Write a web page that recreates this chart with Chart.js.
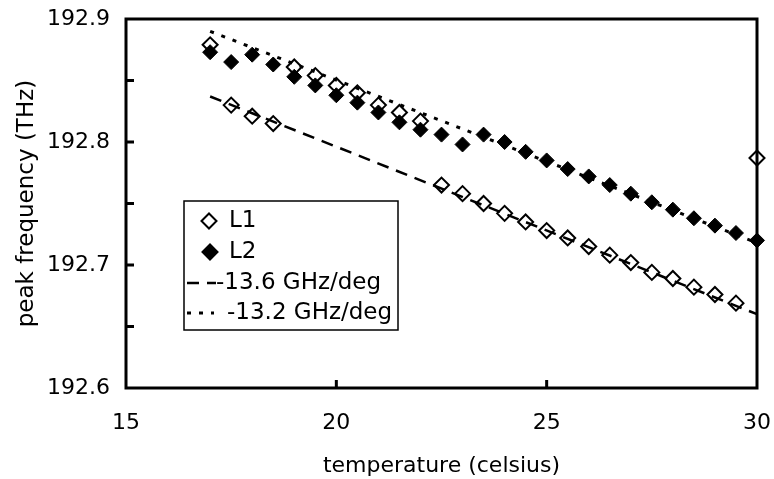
<!DOCTYPE html>
<html lang="en">
<head>
    <meta charset="UTF-8">
    <title>Peak frequency vs temperature</title>
    <style>
        body {
            margin: 0;
            background: white;
        }
        #chart {
            display: block;
        }
    </style>
</head>
<body>
    <canvas id="chart" width="774" height="479"></canvas>

    <script src="https://cdn.jsdelivr.net/npm/chart.js@4.4.0/dist/chart.umd.js"></script>
    <script>
        // Measured points (temperature in celsius, peak frequency in THz)
        const temps = [17, 17.5, 18, 18.5, 19, 19.5, 20, 20.5, 21, 21.5, 22, 22.5, 23, 23.5,
                       24, 24.5, 25, 25.5, 26, 26.5, 27, 27.5, 28, 28.5, 29, 29.5, 30];
        const l1Freq = [192.879, 192.830, 192.821, 192.815, 192.861, 192.854, 192.846, 192.840,
                        192.830, 192.824, 192.817, 192.765, 192.758, 192.750, 192.742, 192.735,
                        192.728, 192.722, 192.715, 192.708, 192.702, 192.694, 192.689, 192.682,
                        192.676, 192.669, 192.787];
        const l2Freq = [192.873, 192.865, 192.871, 192.863, 192.853, 192.846, 192.838, 192.832,
                        192.824, 192.816, 192.810, 192.806, 192.798, 192.806, 192.800, 192.792,
                        192.785, 192.778, 192.772, 192.765, 192.758, 192.751, 192.745, 192.738,
                        192.732, 192.726, 192.720];

        // Linear fits
        const fitTemps = [17, 30];
        const fitL1 = [192.837, 192.660];   // -13.6 GHz/deg
        const fitL2 = [192.890, 192.718];   // -13.2 GHz/deg

        // Axis ticks
        const xTicks = [15, 20, 25, 30];
        const yTicks = [192.6, 192.7, 192.8, 192.9];
        const xTickMarks = [20, 25];
        const yTickMarks = [192.65, 192.7, 192.75, 192.8, 192.85];

        const toPoints = (xs, ys) => xs.map((x, i) => ({ x: x, y: ys[i] }));

        Chart.defaults.color = '#000';
        Chart.defaults.font.family = '"DejaVu Sans", sans-serif';

        function diamond(ctx, x, y, r, fill) {
            ctx.beginPath();
            ctx.moveTo(x - r, y);
            ctx.lineTo(x, y - r);
            ctx.lineTo(x + r, y);
            ctx.lineTo(x, y + r);
            ctx.closePath();
            ctx.fillStyle = fill;
            ctx.fill();
            ctx.lineWidth = 2;
            ctx.strokeStyle = '#000';
            ctx.stroke();
        }

        // frame, inward tick marks and the boxed legend
        const framePlugin = {
            id: 'frame',
            afterDraw(chart) {
                const ctx = chart.ctx;
                const a = chart.chartArea;
                const xs = chart.scales.x, ys = chart.scales.y;
                ctx.save();
                ctx.strokeStyle = '#000';
                ctx.lineWidth = 3;
                ctx.strokeRect(a.left, a.top, a.right - a.left, a.bottom - a.top);

                ctx.beginPath();
                yTickMarks.forEach(v => {
                    const py = ys.getPixelForValue(v);
                    ctx.moveTo(a.left, py);
                    ctx.lineTo(a.left + 8, py);
                });
                xTickMarks.forEach(v => {
                    const px = xs.getPixelForValue(v);
                    ctx.moveTo(px, a.bottom);
                    ctx.lineTo(px, a.bottom - 8);
                });
                ctx.stroke();

                // legend box
                ctx.lineWidth = 1.5;
                ctx.strokeRect(184, 201, 214, 129);
                ctx.font = '23px "DejaVu Sans", sans-serif';
                ctx.textBaseline = 'middle';
                ctx.fillStyle = '#000';

                const sets = chart.data.datasets;
                const rows = [221, 252, 283, 313];

                diamond(ctx, 209, rows[0], 7.5, '#fff');
                ctx.fillStyle = '#000';
                ctx.fillText(sets[0].label, 229, rows[0]);

                diamond(ctx, 210, rows[1], 7.5, '#000');
                ctx.fillStyle = '#000';
                ctx.fillText(sets[1].label, 229, rows[1]);

                ctx.lineWidth = 2.5;
                ctx.setLineDash(sets[2].borderDash);
                ctx.beginPath();
                ctx.moveTo(187, rows[2]);
                ctx.lineTo(216, rows[2]);
                ctx.stroke();
                ctx.setLineDash([]);
                ctx.fillText(sets[2].label, 216, rows[2]);

                ctx.lineWidth = 3;
                ctx.setLineDash(sets[3].borderDash);
                ctx.beginPath();
                ctx.moveTo(187, rows[3]);
                ctx.lineTo(214, rows[3]);
                ctx.stroke();
                ctx.setLineDash([]);
                ctx.fillText(sets[3].label, 227, rows[3]);
                ctx.restore();
            }
        };

        new Chart(document.getElementById('chart'), {
            type: 'scatter',
            data: {
                datasets: [
                    {
                        label: 'L1',
                        data: toPoints(temps, l1Freq),
                        pointStyle: 'rectRot',
                        pointRadius: 7.5,
                        pointBorderWidth: 2,
                        borderColor: '#000',
                        backgroundColor: '#fff',
                        order: 4
                    },
                    {
                        label: 'L2',
                        data: toPoints(temps, l2Freq),
                        pointStyle: 'rectRot',
                        pointRadius: 7.5,
                        pointBorderWidth: 1,
                        borderColor: '#000',
                        backgroundColor: '#000',
                        order: 3
                    },
                    {
                        label: '-13.6 GHz/deg',
                        type: 'line',
                        data: toPoints(fitTemps, fitL1),
                        borderColor: '#000',
                        borderWidth: 2.5,
                        borderDash: [12, 8],
                        pointRadius: 0,
                        fill: false,
                        order: 1
                    },
                    {
                        label: '-13.2 GHz/deg',
                        type: 'line',
                        data: toPoints(fitTemps, fitL2),
                        borderColor: '#000',
                        borderWidth: 3,
                        borderDash: [4, 8],
                        pointRadius: 0,
                        fill: false,
                        order: 2
                    }
                ]
            },
            options: {
                responsive: false,
                animation: false,
                clip: false,
                layout: { padding: { top: 19, right: 17, left: 0, bottom: 0 } },
                plugins: {
                    legend: { display: false },
                    tooltip: { enabled: false }
                },
                scales: {
                    x: {
                        type: 'linear',
                        min: 15,
                        max: 30,
                        grid: { display: false, drawTicks: false },
                        border: { display: false },
                        afterBuildTicks: s => { s.ticks = xTicks.map(v => ({ value: v })); },
                        afterFit: s => {
                            s.height = 91;
                            s.paddingLeft = 0;
                            s.paddingRight = 0;
                        },
                        ticks: {
                            padding: 22,
                            font: { size: 22 },
                            callback: v => String(v)
                        },
                        title: {
                            display: true,
                            text: 'temperature (celsius)',
                            font: { size: 22 },
                            padding: { top: 0, bottom: 0 }
                        }
                    },
                    y: {
                        type: 'linear',
                        min: 192.6,
                        max: 192.9,
                        grid: { display: false, drawTicks: false },
                        border: { display: false },
                        afterBuildTicks: s => { s.ticks = yTicks.map(v => ({ value: v })); },
                        afterFit: s => {
                            s.width = 126;
                            s.paddingTop = 0;
                            s.paddingBottom = 0;
                        },
                        ticks: {
                            padding: 16,
                            font: { size: 22 },
                            callback: v => v.toFixed(1)
                        },
                        title: {
                            display: true,
                            text: 'peak frequency (THz)',
                            font: { size: 23 },
                            padding: { top: 13, bottom: 0 }
                        }
                    }
                }
            },
            plugins: [framePlugin]
        });
    </script>
</body>
</html>
